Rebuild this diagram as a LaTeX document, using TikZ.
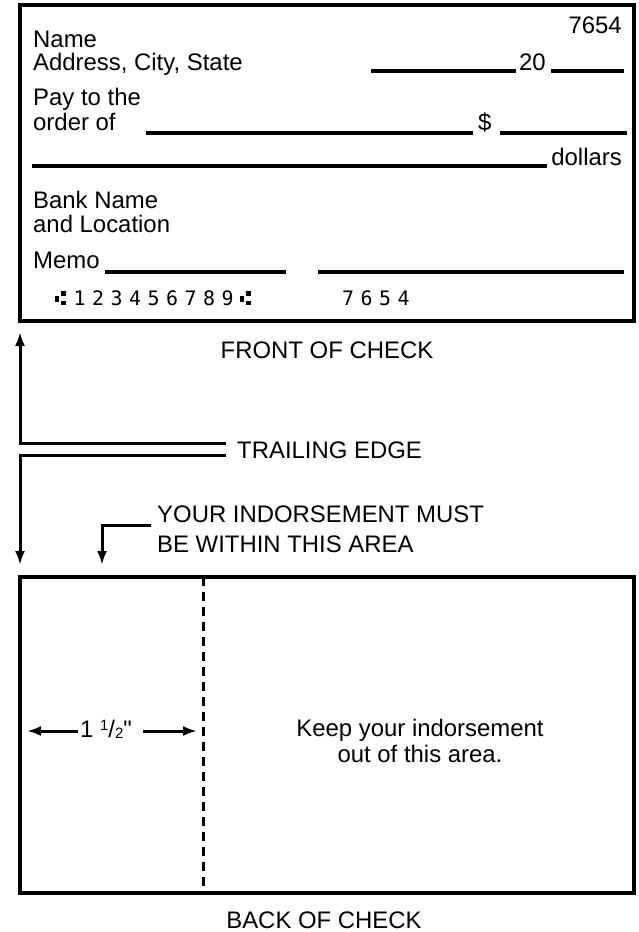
\documentclass[tikz,border=0pt]{standalone}
\usepackage{fontspec}
\setmainfont{Liberation Sans}
\newfontfamily\rawfont{Liberation Sans}
\newfontfamily\micrfont{DejaVu Sans Mono}
\usetikzlibrary{arrows.meta}
\newcommand\mch[1]{\makebox[18.5bp][l]{#1}}
\newcommand\transitsym{\makebox[18.5bp][l]{\rule[3bp]{3.5bp}{6bp}\hspace{2.5bp}\rule[0bp]{5bp}{4.5bp}\hspace{-5bp}\rule[9.5bp]{5bp}{4.5bp}}}
\begin{document}
\begin{tikzpicture}[x=1bp,y=-1bp,
  txt/.style={inner sep=0pt, anchor=base west, font=\fontsize{24}{24}\selectfont},
  ctxt/.style={inner sep=0pt, anchor=base, font=\fontsize{24}{24}\selectfont},
  rtxt/.style={inner sep=0pt, anchor=base east, font=\fontsize{24}{24}\selectfont},
  checkbox/.style={line width=4.5bp, draw=black},
  fillline/.style={line width=3.2bp},
  arr/.style={line width=3bp, -{Latex[length=14bp,width=10bp]}},
  micr/.style={inner sep=0pt, anchor=base west, font=\micrfont\fontsize{20}{20}\selectfont},
]
\useasboundingbox (0,0) rectangle (639,932);
\fill[white] (0,0) rectangle (639,932);

% front of check
\draw[checkbox] (20,5) rectangle (634,321);
\node[rtxt] (chkno) at (622,33) {7654};
\node[txt] (name) at (33,47) {Name};
\node[txt] (addr) at (33,70) {Address, City, State};
\node[txt] (twenty) at (519,70) {20};
\draw[fillline] (371,71) -- (516,71);
\draw[fillline] (551,71) -- (624,71);
\node[txt] (pay) at (33,105) {Pay to the};
\node[txt] (order) at (33,130) {order of};
\draw[fillline] (146,133) -- (473,133);
\node[txt] (dollar) at (478,130) {\$};
\draw[fillline] (500,133) -- (627,133);
\draw[fillline] (32,166) -- (547,166);
\node[rtxt] (dollars) at (622,165) {dollars};
\node[txt] (bank) at (33,208) {Bank Name};
\node[txt] (loc) at (33,232) {and Location};
\node[txt] (memo) at (33,268) {Memo};
\draw[fillline] (105,272) -- (286,272);
\draw[fillline] (318,272) -- (624,272);
\node[micr] (routing) at (55,305) {\transitsym\mch{1}\mch{2}\mch{3}\mch{4}\mch{5}\mch{6}\mch{7}\mch{8}\mch{9}\transitsym};
\node[micr] (micrno) at (342,305) {\mch{7}\mch{6}\mch{5}\mch{4}};

% labels between
\node[ctxt] (front) at (327,358) {FRONT OF CHECK};
\node[txt] (trail) at (237,458) {TRAILING EDGE};
\node[txt] (ind1) at (157,522) {YOUR INDORSEMENT MUST};
\node[txt] (ind2) at (157,552) {BE WITHIN THIS AREA};

\coordinate (teA) at (226,443);
\coordinate (teB) at (226,455);
\coordinate (frontTip) at (20,332);
\coordinate (backTip) at (20,565);
\draw[arr] (teA) -- (20,443) -- (frontTip);
\draw[arr] (teB) -- (20,455) -- (backTip);
\coordinate (indA) at (151,525);
\coordinate (indTip) at (102,565);
\draw[arr] (indA) -| (indTip);

% back of check
\draw[checkbox] (20,577) rectangle (634,893);
\draw[line width=3bp, dash pattern=on 9bp off 6bp] (203,577) -- (203,893);
\node[txt] (half) at (80,737) {1 \raisebox{7bp}{\fontsize{15}{15}\selectfont 1}/\raisebox{-1bp}{\fontsize{15}{15}\selectfont 2}{\rawfont "}};
\coordinate (halfL) at (27,731);
\coordinate (halfR) at (197,731);
\draw[arr] (78,731) -- (halfL);
\draw[arr] (143,731) -- (halfR);
\node[ctxt] (keep1) at (420,736) {Keep your indorsement};
\node[ctxt] (keep2) at (420,762) {out of this area.};
\node[ctxt] (back) at (324,928) {BACK OF CHECK};
\end{tikzpicture}
\end{document}
